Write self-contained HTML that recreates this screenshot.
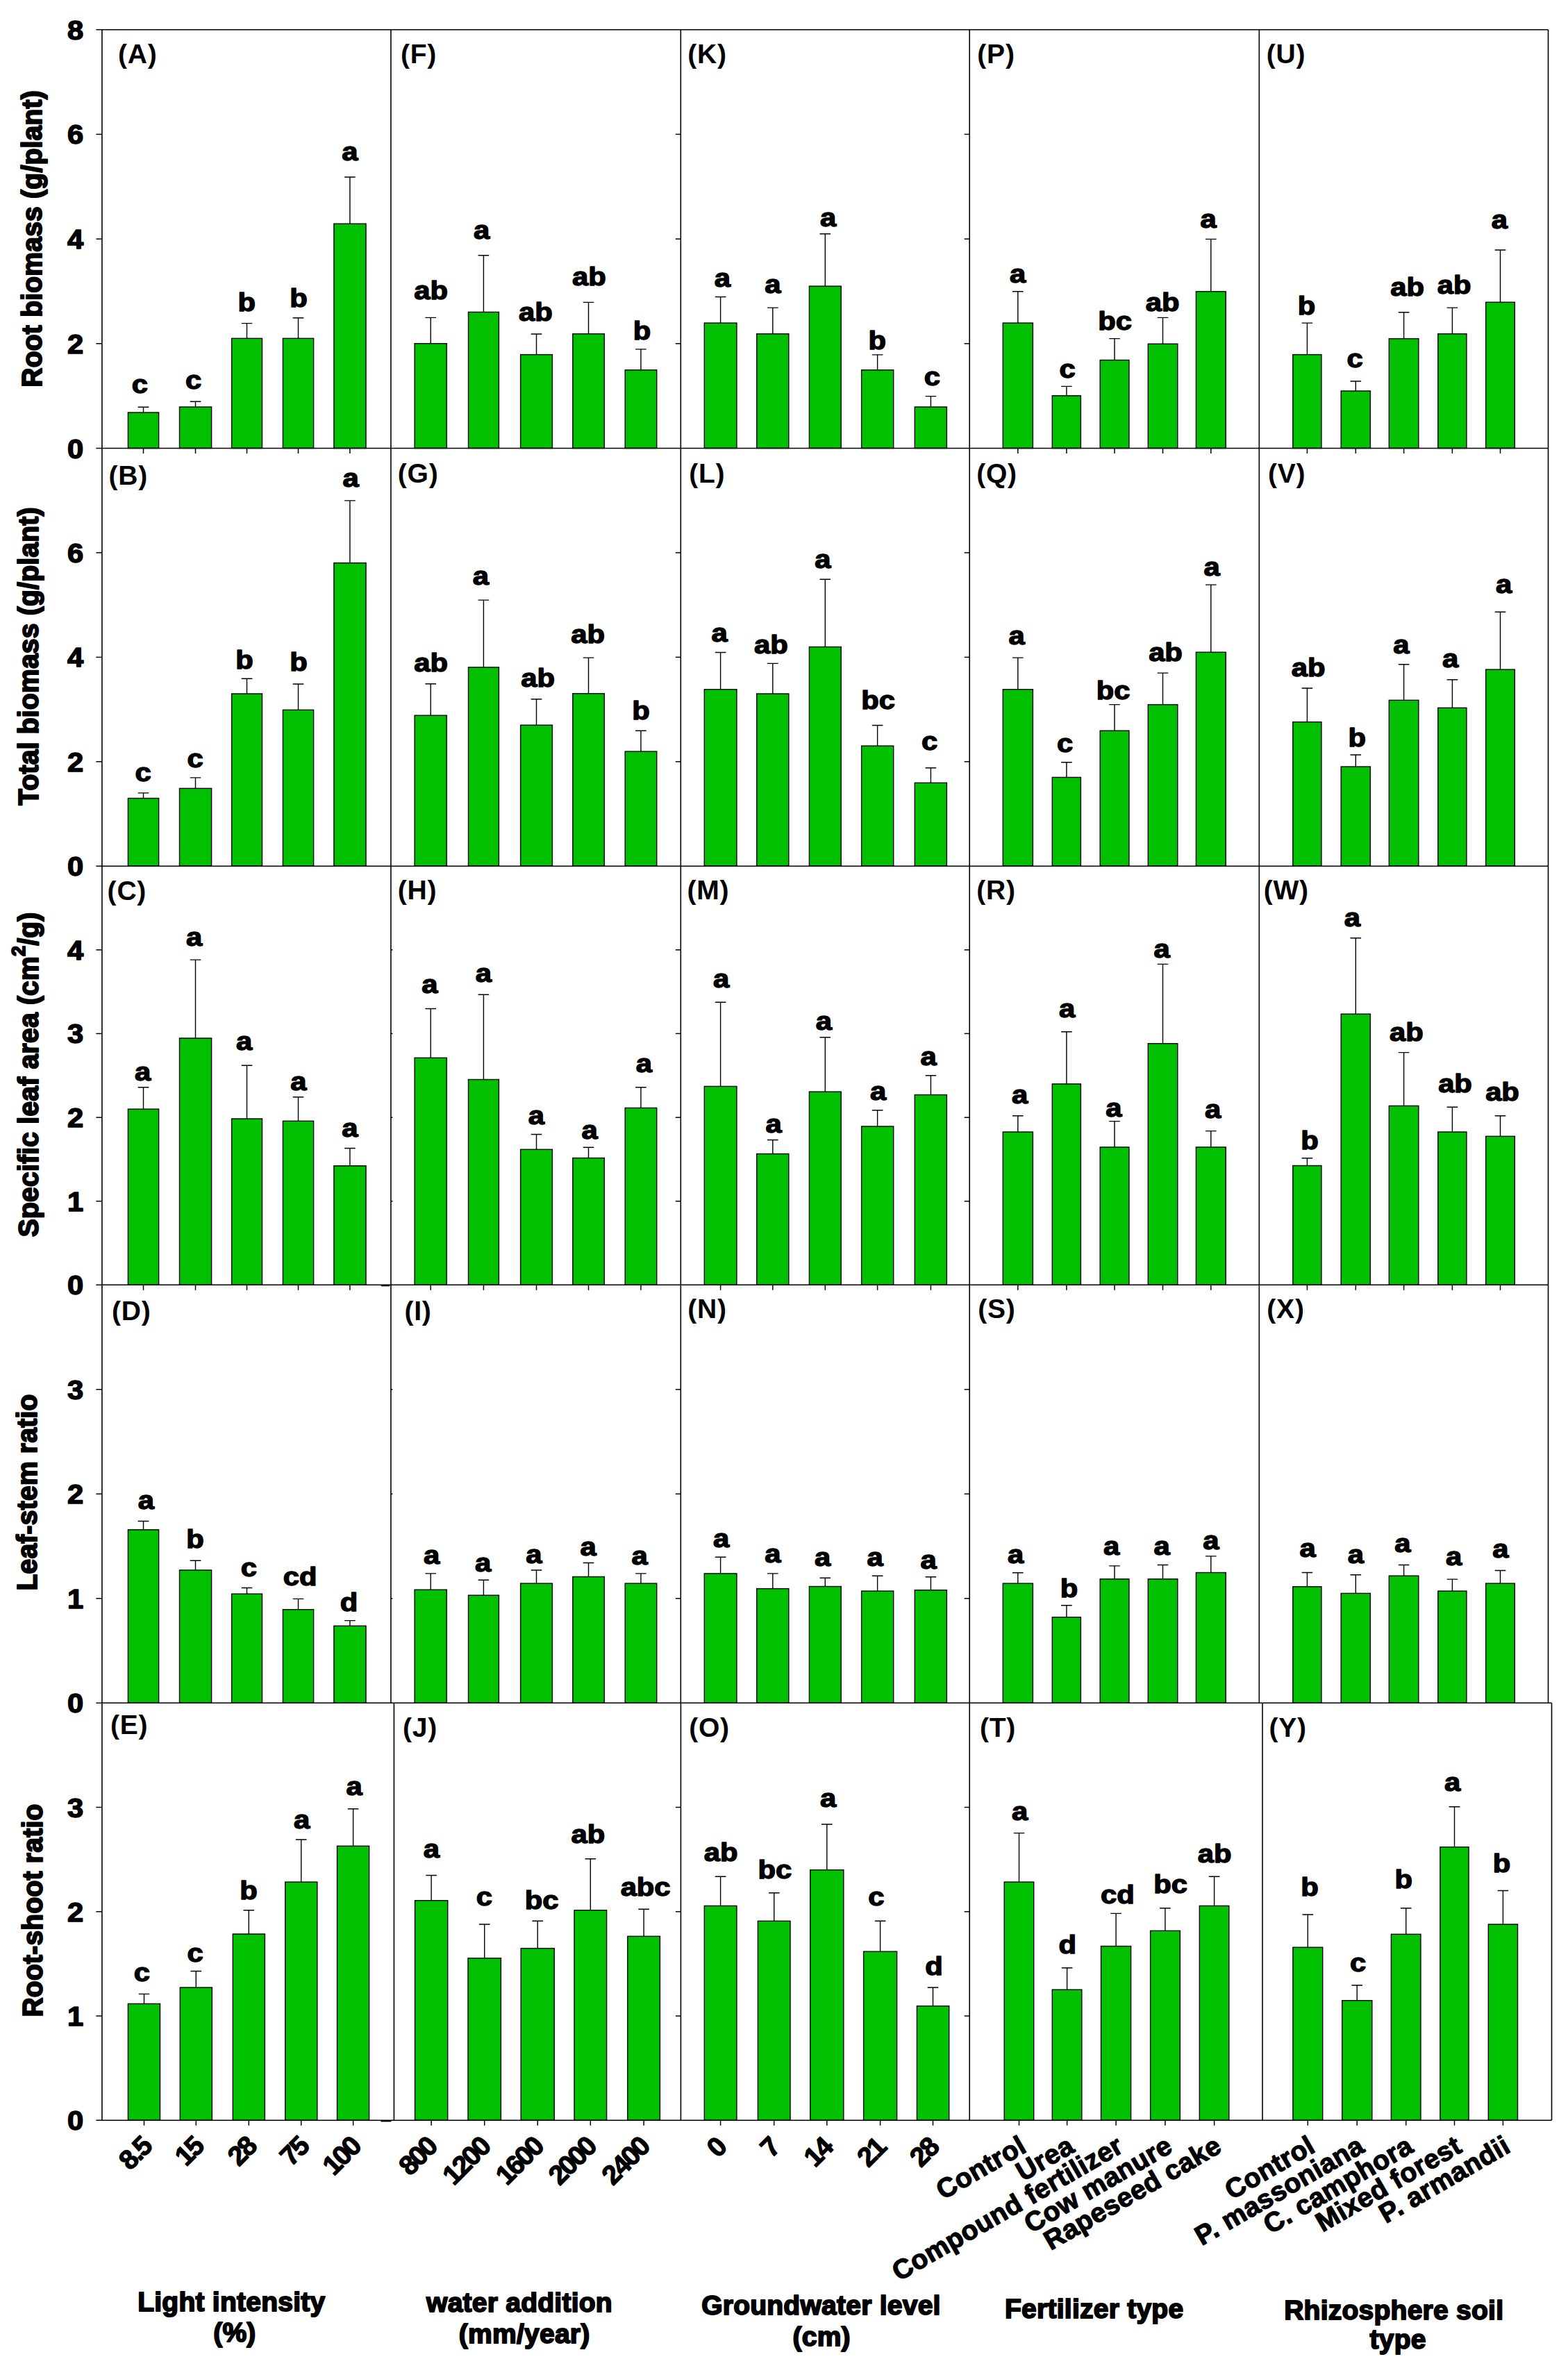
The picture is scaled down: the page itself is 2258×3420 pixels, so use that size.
<!DOCTYPE html>
<html lang="en"><head><meta charset="utf-8"><title>Figure</title>
<style>
html,body{margin:0;padding:0;background:#fff}
svg{display:block}
text{font-family:"Liberation Sans",Arial,Helvetica,sans-serif;font-size:39px;fill:#000}
.l,.ti,.yt,.xt{font-weight:bold;stroke:#000;stroke-width:1.3px;stroke-linejoin:round}
.l,.ti{text-anchor:middle}
.yt,.xt{text-anchor:end}
.pl{font-weight:bold;letter-spacing:0.8px}
.l{stroke-width:1.5px}
.yt{stroke-width:1.5px}
.xn{letter-spacing:-2.5px}
.xw{letter-spacing:0.4px}
.ti{letter-spacing:0.25px;stroke-width:1.9px}
.b{fill:#00c000;stroke:#000;stroke-width:1.4}
.e{fill:none;stroke:#000;stroke-width:1.4}
.t{fill:none;stroke:#000;stroke-width:1.5}
.ax line{stroke:#000}
</style></head>
<body>
<svg width="2258" height="3420" viewBox="0 0 2258 3420">
<rect width="2258" height="3420" fill="#fff"/>
<g id="pA">
<path d="M206.5 594V586.3M198.7 586.3H214.3" class="e"/>
<rect x="184.4" y="594" width="44.2" height="51.5" class="b"/>
<path d="M206.5 645.5v7.5" class="t"/>
<path d="M281.5 586V578.3M273.7 578.3H289.3" class="e"/>
<rect x="258.5" y="586" width="46.1" height="59.5" class="b"/>
<path d="M281.5 645.5v7.5" class="t"/>
<path d="M355.5 487.3V465.6M347.7 465.6H363.3" class="e"/>
<rect x="333.6" y="487.3" width="43.9" height="158.2" class="b"/>
<path d="M355.5 645.5v7.5" class="t"/>
<path d="M429.5 487.3V457.7M421.7 457.7H437.3" class="e"/>
<rect x="407.4" y="487.3" width="44.2" height="158.2" class="b"/>
<path d="M429.5 645.5v7.5" class="t"/>
<path d="M503.9 322.2V255M496.1 255H511.7" class="e"/>
<rect x="480.9" y="322.2" width="46.1" height="323.3" class="b"/>
<path d="M503.9 645.5v7.5" class="t"/>
<text transform="translate(201.3 566.2) scale(1.07 .945)" class="l">c</text>
<text transform="translate(278.5 560.2) scale(1.07 .945)" class="l">c</text>
<text transform="translate(355.3 448.3) scale(1.07 .945)" class="l">b</text>
<text transform="translate(430.1 442.3) scale(1.07 .945)" class="l">b</text>
<text transform="translate(503.8 231.1) scale(1.07 .945)" class="l">a</text>
<text x="170" y="91" class="pl">(A)</text>
</g>
<g id="pB">
<path d="M206.5 1149.5V1141.9M198.7 1141.9H214.3" class="e"/>
<rect x="184.4" y="1149.5" width="44.2" height="97.7" class="b"/>
<path d="M281.5 1135.3V1119.9M273.7 1119.9H289.3" class="e"/>
<rect x="258.5" y="1135.3" width="46.1" height="111.9" class="b"/>
<path d="M355.5 999V977.3M347.7 977.3H363.3" class="e"/>
<rect x="333.6" y="999" width="43.9" height="248.2" class="b"/>
<path d="M429.5 1022.3V985M421.7 985H437.3" class="e"/>
<rect x="407.4" y="1022.3" width="44.2" height="224.9" class="b"/>
<path d="M503.9 810.6V720.9M496.1 720.9H511.7" class="e"/>
<rect x="480.9" y="810.6" width="46.1" height="436.6" class="b"/>
<text transform="translate(206.2 1124.5) scale(1.07 .945)" class="l">c</text>
<text transform="translate(281 1105.1) scale(1.07 .945)" class="l">c</text>
<text transform="translate(352 963.3) scale(1.07 .945)" class="l">b</text>
<text transform="translate(430.1 966) scale(1.07 .945)" class="l">b</text>
<text transform="translate(505.1 701.4) scale(1.07 .945)" class="l">a</text>
<text x="156.5" y="698.4" class="pl">(B)</text>
</g>
<g id="pC">
<path d="M206.5 1597.1V1565.8M198.7 1565.8H214.3" class="e"/>
<rect x="184.4" y="1597.1" width="44.2" height="253.2" class="b"/>
<path d="M206.5 1850.3v7.5" class="t"/>
<path d="M281.5 1495V1382.1M273.7 1382.1H289.3" class="e"/>
<rect x="258.5" y="1495" width="46.1" height="355.3" class="b"/>
<path d="M281.5 1850.3v7.5" class="t"/>
<path d="M355.5 1611V1534.3M347.7 1534.3H363.3" class="e"/>
<rect x="333.6" y="1611" width="43.9" height="239.3" class="b"/>
<path d="M355.5 1850.3v7.5" class="t"/>
<path d="M429.5 1614.3V1579.8M421.7 1579.8H437.3" class="e"/>
<rect x="407.4" y="1614.3" width="44.2" height="236" class="b"/>
<path d="M429.5 1850.3v7.5" class="t"/>
<path d="M503.9 1678.8V1653.5M496.1 1653.5H511.7" class="e"/>
<rect x="480.9" y="1678.8" width="46.1" height="171.5" class="b"/>
<path d="M503.9 1850.3v7.5" class="t"/>
<text transform="translate(205.5 1556.4) scale(1.07 .945)" class="l">a</text>
<text transform="translate(279.6 1362.3) scale(1.07 .945)" class="l">a</text>
<text transform="translate(351.6 1511.7) scale(1.07 .945)" class="l">a</text>
<text transform="translate(429.9 1570.2) scale(1.07 .945)" class="l">a</text>
<text transform="translate(503.8 1637.3) scale(1.07 .945)" class="l">a</text>
<text x="154.6" y="1295.7" class="pl">(C)</text>
</g>
<g id="pD">
<path d="M206.5 2202.8V2190.5M198.7 2190.5H214.3" class="e"/>
<rect x="184.4" y="2202.8" width="44.2" height="249.5" class="b"/>
<path d="M281.5 2261V2247.2M273.7 2247.2H289.3" class="e"/>
<rect x="258.5" y="2261" width="46.1" height="191.3" class="b"/>
<path d="M355.5 2295.2V2286.5M347.7 2286.5H363.3" class="e"/>
<rect x="333.6" y="2295.2" width="43.9" height="157.1" class="b"/>
<path d="M429.5 2317.7V2302.4M421.7 2302.4H437.3" class="e"/>
<rect x="407.4" y="2317.7" width="44.2" height="134.6" class="b"/>
<path d="M503.9 2341.3V2333.6M496.1 2333.6H511.7" class="e"/>
<rect x="480.9" y="2341.3" width="46.1" height="111" class="b"/>
<text transform="translate(210.3 2172.9) scale(1.07 .945)" class="l">a</text>
<text transform="translate(281 2229.1) scale(1.07 .945)" class="l">b</text>
<text transform="translate(358.3 2270.2) scale(1.07 .945)" class="l">c</text>
<text transform="translate(432.1 2282.6) scale(1.07 .945)" class="l">cd</text>
<text transform="translate(502.5 2320.2) scale(1.07 .945)" class="l">d</text>
<text x="160.9" y="1901.2" class="pl">(D)</text>
</g>
<g id="pE">
<path d="M207.5 2885.4V2871.4M199.7 2871.4H215.3" class="e"/>
<rect x="184.4" y="2885.4" width="46.1" height="167.8" class="b"/>
<path d="M207.5 3053.2v7.5" class="t"/>
<path d="M282.3 2862V2838.5M274.5 2838.5H290.1" class="e"/>
<rect x="259.3" y="2862" width="46.1" height="191.2" class="b"/>
<path d="M282.3 3053.2v7.5" class="t"/>
<path d="M358.3 2785V2750.7M350.5 2750.7H366.1" class="e"/>
<rect x="335.3" y="2785" width="46.1" height="268.2" class="b"/>
<path d="M358.3 3053.2v7.5" class="t"/>
<path d="M433.7 2710.1V2649M425.9 2649H441.5" class="e"/>
<rect x="410.7" y="2710.1" width="46.1" height="343.1" class="b"/>
<path d="M433.7 3053.2v7.5" class="t"/>
<path d="M508.6 2658.3V2604.8M500.8 2604.8H516.4" class="e"/>
<rect x="485.5" y="2658.3" width="46.1" height="394.9" class="b"/>
<path d="M508.6 3053.2v7.5" class="t"/>
<text transform="translate(204.4 2853.2) scale(1.07 .945)" class="l">c</text>
<text transform="translate(281 2825) scale(1.07 .945)" class="l">c</text>
<text transform="translate(358 2734.5) scale(1.07 .945)" class="l">b</text>
<text transform="translate(434.5 2632.5) scale(1.07 .945)" class="l">a</text>
<text transform="translate(510.2 2585) scale(1.07 .945)" class="l">a</text>
<text x="159" y="2496.5" class="pl">(E)</text>
</g>
<g id="pF">
<path d="M620.2 494.7V457.4M612.4 457.4H628" class="e"/>
<rect x="597.1" y="494.7" width="46.1" height="150.8" class="b"/>
<path d="M696.4 449.4V367.7M688.6 367.7H704.2" class="e"/>
<rect x="674.5" y="449.4" width="43.9" height="196.1" class="b"/>
<path d="M772.5 510.6V481M764.7 481H780.3" class="e"/>
<rect x="749.6" y="510.6" width="45.8" height="134.9" class="b"/>
<path d="M847.5 480.7V435.4M839.7 435.4H855.3" class="e"/>
<rect x="824.8" y="480.7" width="45.5" height="164.8" class="b"/>
<path d="M922.9 532.8V502.9M915.1 502.9H930.7" class="e"/>
<rect x="900.2" y="532.8" width="45.5" height="112.7" class="b"/>
<text transform="translate(620.7 430.5) scale(1.07 .945)" class="l">ab</text>
<text transform="translate(693.7 344.1) scale(1.07 .945)" class="l">a</text>
<text transform="translate(771.3 462) scale(1.07 .945)" class="l">ab</text>
<text transform="translate(848.3 411.3) scale(1.07 .945)" class="l">ab</text>
<text transform="translate(924.6 488.9) scale(1.07 .945)" class="l">b</text>
<text x="576.9" y="91" class="pl">(F)</text>
</g>
<g id="pG">
<path d="M620.2 1030.2V984.7M612.4 984.7H628" class="e"/>
<rect x="597.1" y="1030.2" width="46.1" height="217" class="b"/>
<path d="M696.4 960.9V864.1M688.6 864.1H704.2" class="e"/>
<rect x="674.5" y="960.9" width="43.9" height="286.3" class="b"/>
<path d="M772.5 1044.2V1006.7M764.7 1006.7H780.3" class="e"/>
<rect x="749.6" y="1044.2" width="45.8" height="203" class="b"/>
<path d="M847.5 998.7V947.1M839.7 947.1H855.3" class="e"/>
<rect x="824.8" y="998.7" width="45.5" height="248.5" class="b"/>
<path d="M922.9 1082.1V1052.2M915.1 1052.2H930.7" class="e"/>
<rect x="900.2" y="1082.1" width="45.5" height="165.1" class="b"/>
<text transform="translate(620.7 966.6) scale(1.07 .945)" class="l">ab</text>
<text transform="translate(692.3 841.8) scale(1.07 .945)" class="l">a</text>
<text transform="translate(774.6 988.8) scale(1.07 .945)" class="l">ab</text>
<text transform="translate(846.7 925.7) scale(1.07 .945)" class="l">ab</text>
<text transform="translate(922.9 1036) scale(1.07 .945)" class="l">b</text>
<text x="572.8" y="695.1" class="pl">(G)</text>
</g>
<g id="pH">
<path d="M620.2 1523.3V1452.5M612.4 1452.5H628" class="e"/>
<rect x="597.1" y="1523.3" width="46.1" height="327" class="b"/>
<path d="M620.2 1850.3v7.5" class="t"/>
<path d="M696.4 1554.5V1432.2M688.6 1432.2H704.2" class="e"/>
<rect x="674.5" y="1554.5" width="43.9" height="295.8" class="b"/>
<path d="M696.4 1850.3v7.5" class="t"/>
<path d="M772.5 1655.2V1633.5M764.7 1633.5H780.3" class="e"/>
<rect x="749.6" y="1655.2" width="45.8" height="195.1" class="b"/>
<path d="M772.5 1850.3v7.5" class="t"/>
<path d="M847.5 1667.5V1652.2M839.7 1652.2H855.3" class="e"/>
<rect x="824.8" y="1667.5" width="45.5" height="182.8" class="b"/>
<path d="M847.5 1850.3v7.5" class="t"/>
<path d="M922.9 1595.4V1565.8M915.1 1565.8H930.7" class="e"/>
<rect x="900.2" y="1595.4" width="45.5" height="254.9" class="b"/>
<path d="M922.9 1850.3v7.5" class="t"/>
<text transform="translate(618.8 1429.7) scale(1.07 .945)" class="l">a</text>
<text transform="translate(696.4 1414.4) scale(1.07 .945)" class="l">a</text>
<text transform="translate(772.4 1618.7) scale(1.07 .945)" class="l">a</text>
<text transform="translate(849.2 1640.1) scale(1.07 .945)" class="l">a</text>
<text transform="translate(927.3 1544.1) scale(1.07 .945)" class="l">a</text>
<text x="572.8" y="1295.1" class="pl">(H)</text>
</g>
<g id="pI">
<path d="M620.2 2289.2V2265.9M612.4 2265.9H628" class="e"/>
<rect x="597.1" y="2289.2" width="46.1" height="163.1" class="b"/>
<path d="M696.4 2297.2V2275.2M688.6 2275.2H704.2" class="e"/>
<rect x="674.5" y="2297.2" width="43.9" height="155.1" class="b"/>
<path d="M772.5 2280.1V2261M764.7 2261H780.3" class="e"/>
<rect x="749.6" y="2280.1" width="45.8" height="172.2" class="b"/>
<path d="M847.5 2270.5V2250.5M839.7 2250.5H855.3" class="e"/>
<rect x="824.8" y="2270.5" width="45.5" height="181.8" class="b"/>
<path d="M922.9 2280.1V2265.9M915.1 2265.9H930.7" class="e"/>
<rect x="900.2" y="2280.1" width="45.5" height="172.2" class="b"/>
<text transform="translate(621.5 2251.6) scale(1.07 .945)" class="l">a</text>
<text transform="translate(695.6 2263.4) scale(1.07 .945)" class="l">a</text>
<text transform="translate(768.8 2251.1) scale(1.07 .945)" class="l">a</text>
<text transform="translate(847 2240.1) scale(1.07 .945)" class="l">a</text>
<text transform="translate(921 2253) scale(1.07 .945)" class="l">a</text>
<text x="582.4" y="1901.2" class="pl">(I)</text>
</g>
<g id="pJ">
<path d="M621.1 2736.7V2700.5M613.3 2700.5H628.9" class="e"/>
<rect x="597.5" y="2736.7" width="47.2" height="316.5" class="b"/>
<path d="M621.1 3053.2v7.5" class="t"/>
<path d="M697.7 2819.8V2771M689.9 2771H705.5" class="e"/>
<rect x="674" y="2819.8" width="47.4" height="233.4" class="b"/>
<path d="M697.7 3053.2v7.5" class="t"/>
<path d="M774.2 2805.6V2766.3M766.4 2766.3H782" class="e"/>
<rect x="750.2" y="2805.6" width="48" height="247.6" class="b"/>
<path d="M774.2 3053.2v7.5" class="t"/>
<path d="M850.3 2750.7V2676.7M842.5 2676.7H858.1" class="e"/>
<rect x="827" y="2750.7" width="46.6" height="302.5" class="b"/>
<path d="M850.3 3053.2v7.5" class="t"/>
<path d="M927.1 2788.3V2749.3M919.3 2749.3H934.9" class="e"/>
<rect x="903.8" y="2788.3" width="46.6" height="264.9" class="b"/>
<path d="M927.1 3053.2v7.5" class="t"/>
<text transform="translate(621.3 2675) scale(1.07 .945)" class="l">a</text>
<text transform="translate(697.3 2744.1) scale(1.07 .945)" class="l">c</text>
<text transform="translate(780.1 2749) scale(1.07 .945)" class="l">bc</text>
<text transform="translate(846.8 2654.4) scale(1.07 .945)" class="l">ab</text>
<text transform="translate(929.6 2729.8) scale(1.07 .945)" class="l">abc</text>
<text x="580" y="2501.2" class="pl">(J)</text>
</g>
<g id="pK">
<path d="M1037.6 465.1V427.5M1029.8 427.5H1045.4" class="e"/>
<rect x="1014.3" y="465.1" width="46.6" height="180.4" class="b"/>
<path d="M1112.8 480.7V443.1M1105 443.1H1120.6" class="e"/>
<rect x="1089.7" y="480.7" width="46.1" height="164.8" class="b"/>
<path d="M1188.3 412.1V336.7M1180.5 336.7H1196.1" class="e"/>
<rect x="1165.4" y="412.1" width="45.8" height="233.4" class="b"/>
<path d="M1263.6 532.8V510.9M1255.8 510.9H1271.4" class="e"/>
<rect x="1240.6" y="532.8" width="46.1" height="112.7" class="b"/>
<path d="M1340.4 586V570.6M1332.6 570.6H1348.2" class="e"/>
<rect x="1317.3" y="586" width="46.1" height="59.5" class="b"/>
<text transform="translate(1040.4 412.7) scale(1.07 .945)" class="l">a</text>
<text transform="translate(1112.8 421.7) scale(1.07 .945)" class="l">a</text>
<text transform="translate(1192.6 326.3) scale(1.07 .945)" class="l">a</text>
<text transform="translate(1263.3 502.6) scale(1.07 .945)" class="l">b</text>
<text transform="translate(1342.3 555.3) scale(1.07 .945)" class="l">c</text>
<text x="990.2" y="91" class="pl">(K)</text>
</g>
<g id="pL">
<path d="M1037.6 992.7V939.5M1029.8 939.5H1045.4" class="e"/>
<rect x="1014.3" y="992.7" width="46.6" height="254.5" class="b"/>
<path d="M1112.8 999V955.4M1105 955.4H1120.6" class="e"/>
<rect x="1089.7" y="999" width="46.1" height="248.2" class="b"/>
<path d="M1188.3 931.5V834.2M1180.5 834.2H1196.1" class="e"/>
<rect x="1165.4" y="931.5" width="45.8" height="315.7" class="b"/>
<path d="M1263.6 1074.1V1044.5M1255.8 1044.5H1271.4" class="e"/>
<rect x="1240.6" y="1074.1" width="46.1" height="173.1" class="b"/>
<path d="M1340.4 1127.3V1105.7M1332.6 1105.7H1348.2" class="e"/>
<rect x="1317.3" y="1127.3" width="46.1" height="119.9" class="b"/>
<text transform="translate(1036 924.4) scale(1.07 .945)" class="l">a</text>
<text transform="translate(1110.3 940.8) scale(1.07 .945)" class="l">ab</text>
<text transform="translate(1184.9 818) scale(1.07 .945)" class="l">a</text>
<text transform="translate(1264.7 1020.9) scale(1.07 .945)" class="l">bc</text>
<text transform="translate(1338.7 1079.8) scale(1.07 .945)" class="l">c</text>
<text x="992.2" y="694.6" class="pl">(L)</text>
</g>
<g id="pM">
<path d="M1037.6 1564.4V1443.2M1029.8 1443.2H1045.4" class="e"/>
<rect x="1014.3" y="1564.4" width="46.6" height="285.9" class="b"/>
<path d="M1037.6 1850.3v7.5" class="t"/>
<path d="M1112.8 1661.5V1641.5M1105 1641.5H1120.6" class="e"/>
<rect x="1089.7" y="1661.5" width="46.1" height="188.8" class="b"/>
<path d="M1112.8 1850.3v7.5" class="t"/>
<path d="M1188.3 1572.1V1493.7M1180.5 1493.7H1196.1" class="e"/>
<rect x="1165.4" y="1572.1" width="45.8" height="278.2" class="b"/>
<path d="M1188.3 1850.3v7.5" class="t"/>
<path d="M1263.6 1622V1598.7M1255.8 1598.7H1271.4" class="e"/>
<rect x="1240.6" y="1622" width="46.1" height="228.3" class="b"/>
<path d="M1263.6 1850.3v7.5" class="t"/>
<path d="M1340.4 1576.5V1548.8M1332.6 1548.8H1348.2" class="e"/>
<rect x="1317.3" y="1576.5" width="46.1" height="273.8" class="b"/>
<path d="M1340.4 1850.3v7.5" class="t"/>
<text transform="translate(1038.7 1422.1) scale(1.07 .945)" class="l">a</text>
<text transform="translate(1114.1 1631.3) scale(1.07 .945)" class="l">a</text>
<text transform="translate(1186.3 1483.2) scale(1.07 .945)" class="l">a</text>
<text transform="translate(1264.7 1583.9) scale(1.07 .945)" class="l">a</text>
<text transform="translate(1337.1 1533.7) scale(1.07 .945)" class="l">a</text>
<text x="989.4" y="1295.1" class="pl">(M)</text>
</g>
<g id="pN">
<path d="M1037.6 2265.9V2242.3M1029.8 2242.3H1045.4" class="e"/>
<rect x="1014.3" y="2265.9" width="46.6" height="186.4" class="b"/>
<path d="M1112.8 2287.6V2265.9M1105 2265.9H1120.6" class="e"/>
<rect x="1089.7" y="2287.6" width="46.1" height="164.7" class="b"/>
<path d="M1188.3 2284.5V2272.2M1180.5 2272.2H1196.1" class="e"/>
<rect x="1165.4" y="2284.5" width="45.8" height="167.8" class="b"/>
<path d="M1263.6 2291.1V2269.2M1255.8 2269.2H1271.4" class="e"/>
<rect x="1240.6" y="2291.1" width="46.1" height="161.2" class="b"/>
<path d="M1340.4 2289.7V2270.8M1332.6 2270.8H1348.2" class="e"/>
<rect x="1317.3" y="2289.7" width="46.1" height="162.6" class="b"/>
<text transform="translate(1038.7 2227.7) scale(1.07 .945)" class="l">a</text>
<text transform="translate(1112.8 2249.7) scale(1.07 .945)" class="l">a</text>
<text transform="translate(1184.6 2255.2) scale(1.07 .945)" class="l">a</text>
<text transform="translate(1260 2255.2) scale(1.07 .945)" class="l">a</text>
<text transform="translate(1337.1 2259.3) scale(1.07 .945)" class="l">a</text>
<text x="990.2" y="1898.4" class="pl">(N)</text>
</g>
<g id="pO">
<path d="M1037.6 2744.4V2702.2M1029.8 2702.2H1045.4" class="e"/>
<rect x="1014.3" y="2744.4" width="46.6" height="308.8" class="b"/>
<path d="M1037.6 3053.2v7.5" class="t"/>
<path d="M1114.7 2766.3V2725.8M1106.9 2725.8H1122.5" class="e"/>
<rect x="1091.4" y="2766.3" width="46.6" height="286.9" class="b"/>
<path d="M1114.7 3053.2v7.5" class="t"/>
<path d="M1190.8 2692.6V2627M1183 2627H1198.6" class="e"/>
<rect x="1166.8" y="2692.6" width="48" height="360.6" class="b"/>
<path d="M1190.8 3053.2v7.5" class="t"/>
<path d="M1267.6 2810.2V2766.3M1259.8 2766.3H1275.4" class="e"/>
<rect x="1243.6" y="2810.2" width="48" height="243" class="b"/>
<path d="M1267.6 3053.2v7.5" class="t"/>
<path d="M1343.5 2888.6V2862M1335.7 2862H1351.3" class="e"/>
<rect x="1320.4" y="2888.6" width="46.3" height="164.6" class="b"/>
<path d="M1343.5 3053.2v7.5" class="t"/>
<text transform="translate(1038.2 2679.7) scale(1.07 .945)" class="l">ab</text>
<text transform="translate(1115.8 2705.2) scale(1.07 .945)" class="l">bc</text>
<text transform="translate(1192.6 2601.5) scale(1.07 .945)" class="l">a</text>
<text transform="translate(1261.9 2744.1) scale(1.07 .945)" class="l">c</text>
<text transform="translate(1345 2844.2) scale(1.07 .945)" class="l">d</text>
<text x="992.2" y="2501.2" class="pl">(O)</text>
</g>
<g id="pP">
<path d="M1465.8 465.1V419.8M1458 419.8H1473.6" class="e"/>
<rect x="1444.3" y="465.1" width="43.1" height="180.4" class="b"/>
<path d="M1465.8 645.5v7.5" class="t"/>
<path d="M1535.9 569.8V556.4M1528.1 556.4H1543.7" class="e"/>
<rect x="1515.3" y="569.8" width="41.1" height="75.7" class="b"/>
<path d="M1535.9 645.5v7.5" class="t"/>
<path d="M1605 518.5V487.6M1597.2 487.6H1612.8" class="e"/>
<rect x="1584.2" y="518.5" width="41.7" height="127" class="b"/>
<path d="M1605 645.5v7.5" class="t"/>
<path d="M1674.5 495.2V457.4M1666.7 457.4H1682.3" class="e"/>
<rect x="1653.3" y="495.2" width="42.5" height="150.3" class="b"/>
<path d="M1674.5 645.5v7.5" class="t"/>
<path d="M1743.8 419.8V344.4M1736 344.4H1751.6" class="e"/>
<rect x="1722.4" y="419.8" width="42.8" height="225.7" class="b"/>
<path d="M1743.8 645.5v7.5" class="t"/>
<text transform="translate(1465.7 406.6) scale(1.07 .945)" class="l">a</text>
<text transform="translate(1537 543.7) scale(1.07 .945)" class="l">c</text>
<text transform="translate(1605.5 475.2) scale(1.07 .945)" class="l">bc</text>
<text transform="translate(1674.1 448.3) scale(1.07 .945)" class="l">ab</text>
<text transform="translate(1740.2 328.2) scale(1.07 .945)" class="l">a</text>
<text x="1407.3" y="91" class="pl">(P)</text>
</g>
<g id="pQ">
<path d="M1465.8 992.7V947.1M1458 947.1H1473.6" class="e"/>
<rect x="1444.3" y="992.7" width="43.1" height="254.5" class="b"/>
<path d="M1535.9 1119.4V1097.7M1528.1 1097.7H1543.7" class="e"/>
<rect x="1515.3" y="1119.4" width="41.1" height="127.8" class="b"/>
<path d="M1605 1052.2V1014.6M1597.2 1014.6H1612.8" class="e"/>
<rect x="1584.2" y="1052.2" width="41.7" height="195" class="b"/>
<path d="M1674.5 1014.6V969.1M1666.7 969.1H1682.3" class="e"/>
<rect x="1653.3" y="1014.6" width="42.5" height="232.6" class="b"/>
<path d="M1743.8 939.2V842.1M1736 842.1H1751.6" class="e"/>
<rect x="1722.4" y="939.2" width="42.8" height="308" class="b"/>
<text transform="translate(1464 927.6) scale(1.07 .945)" class="l">a</text>
<text transform="translate(1533.7 1083.4) scale(1.07 .945)" class="l">c</text>
<text transform="translate(1603.1 1006.6) scale(1.07 .945)" class="l">bc</text>
<text transform="translate(1678.5 951.8) scale(1.07 .945)" class="l">ab</text>
<text transform="translate(1745.1 828.9) scale(1.07 .945)" class="l">a</text>
<text x="1406.2" y="694.6" class="pl">(Q)</text>
</g>
<g id="pR">
<path d="M1465.8 1630V1606.7M1458 1606.7H1473.6" class="e"/>
<rect x="1444.3" y="1630" width="43.1" height="220.3" class="b"/>
<path d="M1465.8 1850.3v7.5" class="t"/>
<path d="M1535.9 1560.9V1485.7M1528.1 1485.7H1543.7" class="e"/>
<rect x="1515.3" y="1560.9" width="41.1" height="289.4" class="b"/>
<path d="M1535.9 1850.3v7.5" class="t"/>
<path d="M1605 1651.9V1614.6M1597.2 1614.6H1612.8" class="e"/>
<rect x="1584.2" y="1651.9" width="41.7" height="198.4" class="b"/>
<path d="M1605 1850.3v7.5" class="t"/>
<path d="M1674.5 1502.7V1388.4M1666.7 1388.4H1682.3" class="e"/>
<rect x="1653.3" y="1502.7" width="42.5" height="347.6" class="b"/>
<path d="M1674.5 1850.3v7.5" class="t"/>
<path d="M1743.8 1651.9V1628.6M1736 1628.6H1751.6" class="e"/>
<rect x="1722.4" y="1651.9" width="42.8" height="198.4" class="b"/>
<path d="M1743.8 1850.3v7.5" class="t"/>
<text transform="translate(1468.7 1589.4) scale(1.07 .945)" class="l">a</text>
<text transform="translate(1536.7 1464.6) scale(1.07 .945)" class="l">a</text>
<text transform="translate(1603.9 1608) scale(1.07 .945)" class="l">a</text>
<text transform="translate(1673 1378.7) scale(1.07 .945)" class="l">a</text>
<text transform="translate(1746.5 1609.9) scale(1.07 .945)" class="l">a</text>
<text x="1406.2" y="1295.1" class="pl">(R)</text>
</g>
<g id="pS">
<path d="M1465.8 2280.1V2264.8M1458 2264.8H1473.6" class="e"/>
<rect x="1444.3" y="2280.1" width="43.1" height="172.2" class="b"/>
<path d="M1535.9 2328.7V2311.7M1528.1 2311.7H1543.7" class="e"/>
<rect x="1515.3" y="2328.7" width="41.1" height="123.6" class="b"/>
<path d="M1605 2273.8V2254.9M1597.2 2254.9H1612.8" class="e"/>
<rect x="1584.2" y="2273.8" width="41.7" height="178.5" class="b"/>
<path d="M1674.5 2273.8V2253.5M1666.7 2253.5H1682.3" class="e"/>
<rect x="1653.3" y="2273.8" width="42.5" height="178.5" class="b"/>
<path d="M1743.8 2264.5V2240.9M1736 2240.9H1751.6" class="e"/>
<rect x="1722.4" y="2264.5" width="42.8" height="187.8" class="b"/>
<text transform="translate(1462.7 2251.1) scale(1.07 .945)" class="l">a</text>
<text transform="translate(1539.5 2299.9) scale(1.07 .945)" class="l">b</text>
<text transform="translate(1600.6 2238.7) scale(1.07 .945)" class="l">a</text>
<text transform="translate(1673 2238.7) scale(1.07 .945)" class="l">a</text>
<text transform="translate(1743.8 2230.5) scale(1.07 .945)" class="l">a</text>
<text x="1408.2" y="1898.4" class="pl">(S)</text>
</g>
<g id="pT">
<path d="M1467.5 2710.1V2639.6M1459.7 2639.6H1475.3" class="e"/>
<rect x="1446.2" y="2710.1" width="42.5" height="343.1" class="b"/>
<path d="M1467.5 3053.2v7.5" class="t"/>
<path d="M1536.6 2865.1V2833.8M1528.8 2833.8H1544.4" class="e"/>
<rect x="1515.3" y="2865.1" width="42.5" height="188.1" class="b"/>
<path d="M1536.6 3053.2v7.5" class="t"/>
<path d="M1607.1 2802.5V2755.4M1599.3 2755.4H1614.9" class="e"/>
<rect x="1585.5" y="2802.5" width="43.1" height="250.7" class="b"/>
<path d="M1607.1 3053.2v7.5" class="t"/>
<path d="M1677.9 2780.3V2747.7M1670.1 2747.7H1685.7" class="e"/>
<rect x="1656.6" y="2780.3" width="42.8" height="272.9" class="b"/>
<path d="M1677.9 3053.2v7.5" class="t"/>
<path d="M1748.6 2744.4V2702.2M1740.8 2702.2H1756.4" class="e"/>
<rect x="1727.3" y="2744.4" width="42.5" height="308.8" class="b"/>
<path d="M1748.6 3053.2v7.5" class="t"/>
<text transform="translate(1468.7 2621.2) scale(1.07 .945)" class="l">a</text>
<text transform="translate(1537.3 2812.7) scale(1.07 .945)" class="l">d</text>
<text transform="translate(1609.4 2740.8) scale(1.07 .945)" class="l">cd</text>
<text transform="translate(1685.6 2726.3) scale(1.07 .945)" class="l">bc</text>
<text transform="translate(1749.2 2682.4) scale(1.07 .945)" class="l">ab</text>
<text x="1410.9" y="2501.2" class="pl">(T)</text>
</g>
<g id="pU">
<path d="M1882.4 510.6V465.1M1874.6 465.1H1890.2" class="e"/>
<rect x="1861.8" y="510.6" width="41.1" height="134.9" class="b"/>
<path d="M1882.4 645.5v7.5" class="t"/>
<path d="M1952.3 563V549M1944.5 549H1960.1" class="e"/>
<rect x="1931.2" y="563" width="42.2" height="82.5" class="b"/>
<path d="M1952.3 645.5v7.5" class="t"/>
<path d="M2021.6 487.6V449.7M2013.8 449.7H2029.4" class="e"/>
<rect x="2000.3" y="487.6" width="42.5" height="157.9" class="b"/>
<path d="M2021.6 645.5v7.5" class="t"/>
<path d="M2091.4 480.7V443.1M2083.6 443.1H2099.2" class="e"/>
<rect x="2070.8" y="480.7" width="41.1" height="164.8" class="b"/>
<path d="M2091.4 645.5v7.5" class="t"/>
<path d="M2160.5 435.2V360M2152.7 360H2168.3" class="e"/>
<rect x="2139.6" y="435.2" width="41.7" height="210.3" class="b"/>
<path d="M2160.5 645.5v7.5" class="t"/>
<text transform="translate(1881.6 453.2) scale(1.07 .945)" class="l">b</text>
<text transform="translate(1951 529.2) scale(1.07 .945)" class="l">c</text>
<text transform="translate(2026.7 426.4) scale(1.07 .945)" class="l">ab</text>
<text transform="translate(2094.1 423.1) scale(1.07 .945)" class="l">ab</text>
<text transform="translate(2159.4 329) scale(1.07 .945)" class="l">a</text>
<text x="1823.8" y="91" class="pl">(U)</text>
</g>
<g id="pV">
<path d="M1882.4 1039.6V991M1874.6 991H1890.2" class="e"/>
<rect x="1861.8" y="1039.6" width="41.1" height="207.6" class="b"/>
<path d="M1952.3 1104V1087M1944.5 1087H1960.1" class="e"/>
<rect x="1931.2" y="1104" width="42.2" height="143.2" class="b"/>
<path d="M2021.6 1008.3V956.7M2013.8 956.7H2029.4" class="e"/>
<rect x="2000.3" y="1008.3" width="42.5" height="238.9" class="b"/>
<path d="M2091.4 1019.3V978.7M2083.6 978.7H2099.2" class="e"/>
<rect x="2070.8" y="1019.3" width="41.1" height="227.9" class="b"/>
<path d="M2160.5 964.1V881.3M2152.7 881.3H2168.3" class="e"/>
<rect x="2139.6" y="964.1" width="41.7" height="283.1" class="b"/>
<text transform="translate(1884.1 973.7) scale(1.07 .945)" class="l">ab</text>
<text transform="translate(1954.3 1075.2) scale(1.07 .945)" class="l">b</text>
<text transform="translate(2017.9 940.8) scale(1.07 .945)" class="l">a</text>
<text transform="translate(2088.6 960.6) scale(1.07 .945)" class="l">a</text>
<text transform="translate(2165.7 854.4) scale(1.07 .945)" class="l">a</text>
<text x="1826" y="695.1" class="pl">(V)</text>
</g>
<g id="pW">
<path d="M1882.4 1678.5V1667.8M1874.6 1667.8H1890.2" class="e"/>
<rect x="1861.8" y="1678.5" width="41.1" height="171.8" class="b"/>
<path d="M1882.4 1850.3v7.5" class="t"/>
<path d="M1952.3 1460.2V1350.8M1944.5 1350.8H1960.1" class="e"/>
<rect x="1931.2" y="1460.2" width="42.2" height="390.1" class="b"/>
<path d="M1952.3 1850.3v7.5" class="t"/>
<path d="M2021.6 1592.4V1515.6M2013.8 1515.6H2029.4" class="e"/>
<rect x="2000.3" y="1592.4" width="42.5" height="257.9" class="b"/>
<path d="M2021.6 1850.3v7.5" class="t"/>
<path d="M2091.4 1630V1594.3M2083.6 1594.3H2099.2" class="e"/>
<rect x="2070.8" y="1630" width="41.1" height="220.3" class="b"/>
<path d="M2091.4 1850.3v7.5" class="t"/>
<path d="M2160.5 1636.3V1606.7M2152.7 1606.7H2168.3" class="e"/>
<rect x="2139.6" y="1636.3" width="41.7" height="214" class="b"/>
<path d="M2160.5 1850.3v7.5" class="t"/>
<text transform="translate(1886 1655.2) scale(1.07 .945)" class="l">b</text>
<text transform="translate(1947.4 1334.3) scale(1.07 .945)" class="l">a</text>
<text transform="translate(2025.3 1498.9) scale(1.07 .945)" class="l">ab</text>
<text transform="translate(2095.5 1572.9) scale(1.07 .945)" class="l">ab</text>
<text transform="translate(2163.5 1585.2) scale(1.07 .945)" class="l">ab</text>
<text x="1819.7" y="1295.1" class="pl">(W)</text>
</g>
<g id="pX">
<path d="M1882.4 2284.8V2264.5M1874.6 2264.5H1890.2" class="e"/>
<rect x="1861.8" y="2284.8" width="41.1" height="167.5" class="b"/>
<path d="M1952.3 2294.4V2267.8M1944.5 2267.8H1960.1" class="e"/>
<rect x="1931.2" y="2294.4" width="42.2" height="157.9" class="b"/>
<path d="M2021.6 2269.2V2253.5M2013.8 2253.5H2029.4" class="e"/>
<rect x="2000.3" y="2269.2" width="42.5" height="183.1" class="b"/>
<path d="M2091.4 2291.1V2274.1M2083.6 2274.1H2099.2" class="e"/>
<rect x="2070.8" y="2291.1" width="41.1" height="161.2" class="b"/>
<path d="M2160.5 2280.1V2261.5M2152.7 2261.5H2168.3" class="e"/>
<rect x="2139.6" y="2280.1" width="41.7" height="172.2" class="b"/>
<text transform="translate(1883.2 2241.5) scale(1.07 .945)" class="l">a</text>
<text transform="translate(1952.3 2251.1) scale(1.07 .945)" class="l">a</text>
<text transform="translate(2019.8 2235.1) scale(1.07 .945)" class="l">a</text>
<text transform="translate(2093.6 2254.3) scale(1.07 .945)" class="l">a</text>
<text transform="translate(2160.8 2243.4) scale(1.07 .945)" class="l">a</text>
<text x="1824.3" y="1898.4" class="pl">(X)</text>
</g>
<g id="pY">
<path d="M1883.3 2804.2V2757M1875.5 2757H1891.1" class="e"/>
<rect x="1861.9" y="2804.2" width="42.8" height="249" class="b"/>
<path d="M1883.3 3053.2v7.5" class="t"/>
<path d="M1954.2 2880.7V2858.8M1946.4 2858.8H1962" class="e"/>
<rect x="1932.7" y="2880.7" width="43.1" height="172.5" class="b"/>
<path d="M1954.2 3053.2v7.5" class="t"/>
<path d="M2024.7 2785.3V2747.7M2016.9 2747.7H2032.5" class="e"/>
<rect x="2003.4" y="2785.3" width="42.5" height="267.9" class="b"/>
<path d="M2024.7 3053.2v7.5" class="t"/>
<path d="M2094.5 2659.7V2601.8M2086.7 2601.8H2102.3" class="e"/>
<rect x="2073.9" y="2659.7" width="41.1" height="393.5" class="b"/>
<path d="M2094.5 3053.2v7.5" class="t"/>
<path d="M2164.4 2771V2722.5M2156.6 2722.5H2172.2" class="e"/>
<rect x="2143.3" y="2771" width="42.2" height="282.2" class="b"/>
<path d="M2164.4 3053.2v7.5" class="t"/>
<text transform="translate(1886 2729.8) scale(1.07 .945)" class="l">b</text>
<text transform="translate(1955.7 2839.3) scale(1.07 .945)" class="l">c</text>
<text transform="translate(2021.2 2719.4) scale(1.07 .945)" class="l">b</text>
<text transform="translate(2091.7 2578.7) scale(1.07 .945)" class="l">a</text>
<text transform="translate(2162.5 2695.6) scale(1.07 .945)" class="l">b</text>
<text x="1827.4" y="2501.2" class="pl">(Y)</text>
</g>
<g id="frames" class="ax">
<line x1="146.9" y1="42.7" x2="2229.5" y2="42.7" stroke-width="1.6"/>
<line x1="146.9" y1="645.5" x2="2229.5" y2="645.5" stroke-width="1.6"/>
<line x1="146.9" y1="1247.2" x2="2229.5" y2="1247.2" stroke-width="1.6"/>
<line x1="146.9" y1="1850.3" x2="2229.5" y2="1850.3" stroke-width="1.6"/>
<line x1="146.9" y1="2452.3" x2="2234.5" y2="2452.3" stroke-width="1.6"/>
<line x1="146.9" y1="3053.2" x2="2234.5" y2="3053.2" stroke-width="1.6"/>
<line x1="146.9" y1="42.7" x2="146.9" y2="2452.3" stroke-width="1.6"/>
<line x1="562.9" y1="42.7" x2="562.9" y2="2452.3" stroke-width="1.6"/>
<line x1="980.3" y1="42.7" x2="980.3" y2="2452.3" stroke-width="1.6"/>
<line x1="1396.2" y1="42.7" x2="1396.2" y2="2452.3" stroke-width="1.6"/>
<line x1="1813.3" y1="42.7" x2="1813.3" y2="2452.3" stroke-width="1.6"/>
<line x1="2229.5" y1="42.7" x2="2229.5" y2="2452.3" stroke-width="1.6"/>
<line x1="146.9" y1="2452.3" x2="146.9" y2="3053.2" stroke-width="1.6"/>
<line x1="567.4" y1="2452.3" x2="567.4" y2="3053.2" stroke-width="1.6"/>
<line x1="980.4" y1="2452.3" x2="980.4" y2="3053.2" stroke-width="1.6"/>
<line x1="1396.2" y1="2452.3" x2="1396.2" y2="3053.2" stroke-width="1.6"/>
<line x1="1818" y1="2452.3" x2="1818" y2="3053.2" stroke-width="1.6"/>
<line x1="2234.5" y1="2452.3" x2="2234.5" y2="3053.2" stroke-width="1.6"/>
</g>
<g id="yaxis">
<path d="M138.4 645.5h8.5" class="t"/>
<text transform="translate(120.3 659.5) scale(1.07 1)" class="yt">0</text>
<path d="M138.4 494.8h8.5" class="t"/>
<text transform="translate(120.3 508.8) scale(1.07 1)" class="yt">2</text>
<path d="M138.4 344.1h8.5" class="t"/>
<text transform="translate(120.3 358.1) scale(1.07 1)" class="yt">4</text>
<path d="M138.4 193.4h8.5" class="t"/>
<text transform="translate(120.3 207.4) scale(1.07 1)" class="yt">6</text>
<path d="M138.4 42.7h8.5" class="t"/>
<text transform="translate(120.3 56.7) scale(1.07 1)" class="yt">8</text>
<path d="M138.4 1247.2h8.5" class="t"/>
<text transform="translate(120.3 1261.2) scale(1.07 1)" class="yt">0</text>
<path d="M138.4 1096.8h8.5" class="t"/>
<text transform="translate(120.3 1110.8) scale(1.07 1)" class="yt">2</text>
<path d="M138.4 946.4h8.5" class="t"/>
<text transform="translate(120.3 960.4) scale(1.07 1)" class="yt">4</text>
<path d="M138.4 795.9h8.5" class="t"/>
<text transform="translate(120.3 809.9) scale(1.07 1)" class="yt">6</text>
<path d="M138.4 1850.3h8.5" class="t"/>
<text transform="translate(120.3 1864.3) scale(1.07 1)" class="yt">0</text>
<path d="M138.4 1729.7h8.5" class="t"/>
<text transform="translate(120.3 1743.7) scale(1.07 1)" class="yt">1</text>
<path d="M138.4 1609.1h8.5" class="t"/>
<text transform="translate(120.3 1623.1) scale(1.07 1)" class="yt">2</text>
<path d="M138.4 1488.4h8.5" class="t"/>
<text transform="translate(120.3 1502.4) scale(1.07 1)" class="yt">3</text>
<path d="M138.4 1367.8h8.5" class="t"/>
<text transform="translate(120.3 1381.8) scale(1.07 1)" class="yt">4</text>
<path d="M138.4 2452.3h8.5" class="t"/>
<text transform="translate(120.3 2466.3) scale(1.07 1)" class="yt">0</text>
<path d="M138.4 2301.8h8.5" class="t"/>
<text transform="translate(120.3 2315.8) scale(1.07 1)" class="yt">1</text>
<path d="M138.4 2151.3h8.5" class="t"/>
<text transform="translate(120.3 2165.3) scale(1.07 1)" class="yt">2</text>
<path d="M138.4 2000.8h8.5" class="t"/>
<text transform="translate(120.3 2014.8) scale(1.07 1)" class="yt">3</text>
<path d="M138.4 3053.2h8.5" class="t"/>
<text transform="translate(120.3 3067.2) scale(1.07 1)" class="yt">0</text>
<path d="M138.4 2903h8.5" class="t"/>
<text transform="translate(120.3 2917) scale(1.07 1)" class="yt">1</text>
<path d="M138.4 2752.8h8.5" class="t"/>
<text transform="translate(120.3 2766.8) scale(1.07 1)" class="yt">2</text>
<path d="M138.4 2602.5h8.5" class="t"/>
<text transform="translate(120.3 2616.5) scale(1.07 1)" class="yt">3</text>
<path d="M972.8 494.8h7.5" class="t"/>
<path d="M972.8 344.1h7.5" class="t"/>
<path d="M972.8 193.4h7.5" class="t"/>
<path d="M972.8 1096.8h7.5" class="t"/>
<path d="M972.8 946.4h7.5" class="t"/>
<path d="M972.8 795.9h7.5" class="t"/>
<path d="M972.8 1729.7h7.5" class="t"/>
<path d="M972.8 1609.1h7.5" class="t"/>
<path d="M972.8 1488.4h7.5" class="t"/>
<path d="M972.8 1367.8h7.5" class="t"/>
<path d="M972.8 2301.8h7.5" class="t"/>
<path d="M972.8 2151.3h7.5" class="t"/>
<path d="M972.8 2000.8h7.5" class="t"/>
<path d="M972.9 2903h7.5" class="t"/>
<path d="M972.9 2752.8h7.5" class="t"/>
<path d="M972.9 2602.5h7.5" class="t"/>
<path d="M1388.7 494.8h7.5" class="t"/>
<path d="M1388.7 344.1h7.5" class="t"/>
<path d="M1388.7 193.4h7.5" class="t"/>
<path d="M1388.7 1096.8h7.5" class="t"/>
<path d="M1388.7 946.4h7.5" class="t"/>
<path d="M1388.7 795.9h7.5" class="t"/>
<path d="M1388.7 1729.7h7.5" class="t"/>
<path d="M1388.7 1609.1h7.5" class="t"/>
<path d="M1388.7 1488.4h7.5" class="t"/>
<path d="M1388.7 1367.8h7.5" class="t"/>
<path d="M1388.7 2301.8h7.5" class="t"/>
<path d="M1388.7 2151.3h7.5" class="t"/>
<path d="M1388.7 2000.8h7.5" class="t"/>
<path d="M1388.7 2903h7.5" class="t"/>
<path d="M1388.7 2752.8h7.5" class="t"/>
<path d="M1388.7 2602.5h7.5" class="t"/>
<path d="M548.8 1851.1h12.5" class="t" style="stroke-width:2.4"/>
<path d="M548.4 3054.2h15" class="t" style="stroke-width:2.4"/>
<path d="M562.9 1729.7h2.5" class="t"/>
<path d="M562.9 1609.1h2.5" class="t"/>
<path d="M562.9 1488.4h2.5" class="t"/>
<path d="M562.9 1367.8h2.5" class="t"/>
<path d="M562.9 2301.8h2.5" class="t"/>
<path d="M562.9 2151.3h2.5" class="t"/>
<path d="M562.9 2000.8h2.5" class="t"/>
</g>
<g id="ytitles">
<text transform="translate(60 343.8) rotate(-90) scale(1 1.04)" class="ti yl">Root biomass (g/plant)</text>
<text transform="translate(55 945) rotate(-90) scale(1 1.04)" class="ti yl">Total biomass (g/plant)</text>
<text transform="translate(55 1547.3) rotate(-90) scale(1 1.04)" class="ti yl">Specific leaf area (cm<tspan dy="-18.5" font-size="27">2</tspan><tspan dy="18.5">/g)</tspan></text>
<text transform="translate(52.5 2149) rotate(-90) scale(1 1.04)" class="ti yl">Leaf-stem ratio</text>
<text transform="translate(61 2751) rotate(-90) scale(1 1.04)" class="ti yl">Root-shoot ratio</text>
</g>
<g id="xlabels">
<text transform="translate(220.3 3093.6) rotate(-45)" class="xt xn">8.5</text>
<text transform="translate(295.1 3093.6) rotate(-45)" class="xt xn">15</text>
<text transform="translate(371.1 3093.6) rotate(-45)" class="xt xn">28</text>
<text transform="translate(446.5 3093.6) rotate(-45)" class="xt xn">75</text>
<text transform="translate(521.4 3093.6) rotate(-45)" class="xt xn">100</text>
<text transform="translate(631.1 3094) rotate(-45)" class="xt xn">800</text>
<text transform="translate(707.7 3094) rotate(-45)" class="xt xn">1200</text>
<text transform="translate(784.2 3094) rotate(-45)" class="xt xn">1600</text>
<text transform="translate(860.3 3094) rotate(-45)" class="xt xn">2000</text>
<text transform="translate(937.1 3094) rotate(-45)" class="xt xn">2400</text>
<text transform="translate(1047.6 3095) rotate(-45)" class="xt xn">0</text>
<text transform="translate(1124.7 3095) rotate(-45)" class="xt xn">7</text>
<text transform="translate(1200.8 3095) rotate(-45)" class="xt xn">14</text>
<text transform="translate(1277.6 3095) rotate(-45)" class="xt xn">21</text>
<text transform="translate(1353.5 3095) rotate(-45)" class="xt xn">28</text>
<text transform="translate(1480.5 3097.5) rotate(-30)" class="xt xw">Control</text>
<text transform="translate(1549.6 3097.5) rotate(-30)" class="xt xw">Urea</text>
<text transform="translate(1620.1 3097.5) rotate(-30)" class="xt xw">Compound fertilizer</text>
<text transform="translate(1690.9 3097.5) rotate(-30)" class="xt xw">Cow manure</text>
<text transform="translate(1761.6 3097.5) rotate(-30)" class="xt xw">Rapeseed cake</text>
<text transform="translate(1896.3 3097.5) rotate(-30)" class="xt xw">Control</text>
<text transform="translate(1967.2 3097.5) rotate(-30)" class="xt xw">P. massoniana</text>
<text transform="translate(2037.7 3097.5) rotate(-30)" class="xt xw">C. camphora</text>
<text transform="translate(2107.5 3097.5) rotate(-30)" class="xt xw">Mixed forest</text>
<text transform="translate(2177.4 3097.5) rotate(-30)" class="xt xw">P. armandii</text>
</g>
<g id="xtitles">
<text x="333.3" y="3328" class="ti">Light intensity</text>
<text x="337.9" y="3371.6" class="ti">(%)</text>
<text x="748" y="3328.6" class="ti">water addition</text>
<text x="755.2" y="3374.2" class="ti">(mm/year)</text>
<text x="1182.4" y="3333.4" class="ti">Groundwater level</text>
<text x="1183.2" y="3378" class="ti">(cm)</text>
<text x="1575.7" y="3337.8" class="ti">Fertilizer type</text>
<text x="2007.2" y="3339.6" class="ti">Rhizosphere soil</text>
<text x="2013.1" y="3382.2" class="ti">type</text>
</g>
</svg>
</body></html>
